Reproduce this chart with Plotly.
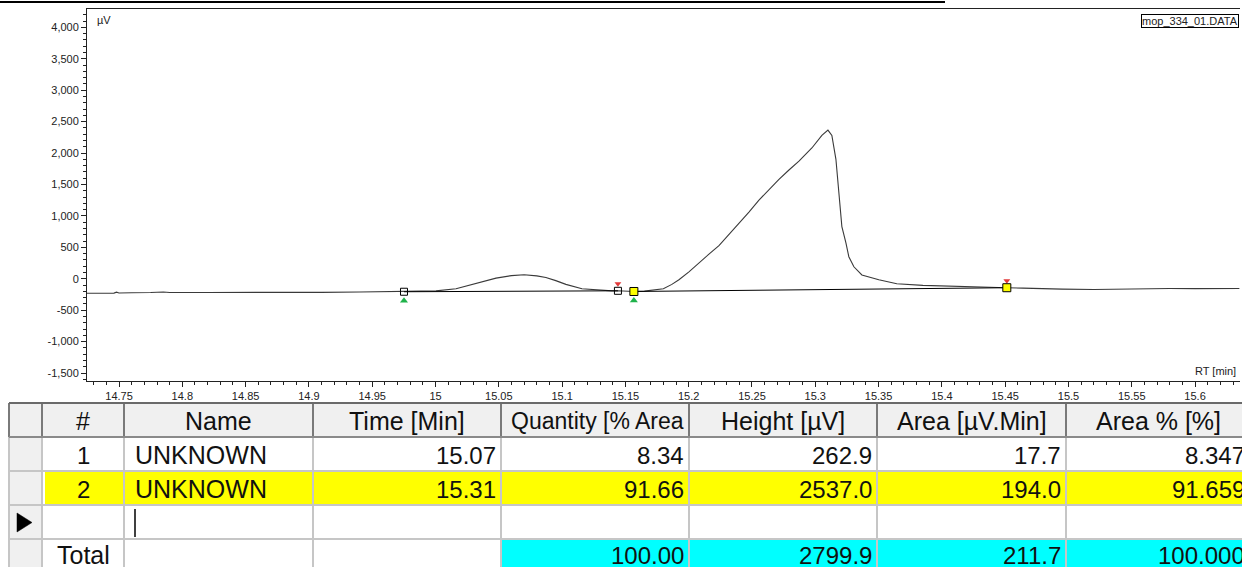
import numpy as np
import plotly.graph_objects as go

# ---------------- chromatogram trace (RT in min, signal in µV) ----------------
rt_min = [
    14.7247, 14.7460, 14.7480, 14.7500, 14.7600, 14.7700, 14.7750, 14.7850,
    14.7900, 14.8200, 14.8500, 14.8800, 14.9100, 14.9400, 14.9751,
    14.9870, 15.0004, 15.0162, 15.0250, 15.0343, 15.0478, 15.0600, 15.0700,
    15.0800, 15.0872, 15.0950, 15.1030, 15.1157, 15.1291, 15.1394, 15.1441,
    15.1500, 15.1567, 15.1650, 15.1741, 15.1800, 15.1867, 15.1923, 15.2002,
    15.2081, 15.2160, 15.2239, 15.2318, 15.2397, 15.2476, 15.2555, 15.2634,
    15.2713, 15.2792, 15.2871, 15.2973, 15.3052, 15.3100, 15.3131, 15.3163,
    15.3186, 15.3210, 15.3242, 15.3265, 15.3305, 15.3368, 15.3502, 15.3644,
    15.3850, 15.4055, 15.4300, 15.4513, 15.4640, 15.4800, 15.4950, 15.5200,
    15.5350, 15.5500, 15.5650, 15.5800, 15.6000, 15.6200, 15.6350,
]
signal_uv = [
    -230, -229, -214, -226, -222, -213, -220, -212,
    -220, -218, -220, -215, -217, -212, -207,
    -205, -193, -160, -110, -64, 10, 50, 64,
    45, 20, -30, -90, -160, -185, -193, -192,
    -198, -203, -198, -182, -160, -90, -16, 110,
    255, 390, 525, 700, 880, 1060, 1250, 1420,
    1580, 1730, 1870, 2080, 2280, 2365, 2280, 1900,
    1370, 830, 570, 350, 190, 60, -16, -80,
    -105, -120, -130, -143, -150, -152, -165, -172,
    -165, -170, -160, -155, -158, -152, -155,
]

# integration events (peak start / peak end retention times)
peak_start_rt = [14.9751, 15.1567]
peak_end_rt = [15.1441, 15.4513]
selected_peak = 1  # index of the highlighted peak

# axis ticks
x_tick_vals = [14.75, 14.8, 14.85, 14.9, 14.95, 15.0, 15.05, 15.1, 15.15,
               15.2, 15.25, 15.3, 15.35, 15.4, 15.45, 15.5, 15.55, 15.6]
x_tick_text = ["14.75", "14.8", "14.85", "14.9", "14.95", "15", "15.05", "15.1",
               "15.15", "15.2", "15.25", "15.3", "15.35", "15.4", "15.45", "15.5",
               "15.55", "15.6"]
y_tick_vals = [4000, 3500, 3000, 2500, 2000, 1500, 1000, 500, 0, -500, -1000, -1500]
y_tick_text = ["4,000", "3,500", "3,000", "2,500", "2,000", "1,500", "1,000", "500",
               "0", "-500", "-1,000", "-1,500"]

# ---------------- results table ----------------
table_headers = ["#", "Name", "Time [Min]", "Quantity [% Area", "Height [µV]",
                 "Area [µV.Min]", "Area % [%]"]
peak_no = ["1", "2"]
peak_names = ["UNKNOWN", "UNKNOWN"]
peak_time = [15.07, 15.31]
quantity_pct = [8.34, 91.66]
height_uv = [262.9, 2537.0]
area_uvmin = [17.7, 194.0]
area_pct = [8.347, 91.659]
total_label = "Total"
total_quantity = 100.00
total_height = 2799.9
total_area = 211.7
total_area_pct = 100.000

# ---------------- page geometry (pixels) ----------------
W, H = 1242, 567
L, R, T, B = 87, 1240, 9, 381
X_RANGE = [14.7247, 15.6355]
Y_RANGE = [-1627, 4291]


def px(x):
    return (x - L) / (R - L)


def py(y):
    return (B - y) / (B - T)


fig = go.Figure()

rt = np.array(rt_min)
sig = np.array(signal_uv)

# signal
fig.add_trace(go.Scatter(x=rt, y=sig, mode="lines",
                         line=dict(color="#3a3a3a", width=1.1),
                         hoverinfo="skip"))

# baselines drawn between each peak's start and end
bx, by = [], []
for s, e in zip(peak_start_rt, peak_end_rt):
    bx += [s, e, None]
    by += [float(np.interp(s, rt, sig)), float(np.interp(e, rt, sig)), None]
fig.add_trace(go.Scatter(x=bx, y=by, mode="lines",
                         line=dict(color="black", width=1), hoverinfo="skip"))

# event markers
uv_per_px = (Y_RANGE[1] - Y_RANGE[0]) / (B - T)
for i, (s, e) in enumerate(zip(peak_start_rt, peak_end_rt)):
    ys = float(np.interp(s, rt, sig))
    ye = float(np.interp(e, rt, sig))
    fill = "#ffff00" if i == selected_peak else "rgba(255,255,255,0)"
    size = 8 if i == selected_peak else 7
    # green start flag below, red end flag above
    fig.add_trace(go.Scatter(x=[s], y=[ys - 9 * uv_per_px], mode="markers",
                             marker=dict(symbol="triangle-up", size=7, color="#1fb24a",
                                         line=dict(width=0)), hoverinfo="skip"))
    fig.add_trace(go.Scatter(x=[e], y=[ye + 7 * uv_per_px], mode="markers",
                             marker=dict(symbol="triangle-down", size=6, color="#e23a3a",
                                         line=dict(width=0)), hoverinfo="skip"))
    fig.add_trace(go.Scatter(x=[s, e], y=[ys, ye], mode="markers",
                             marker=dict(symbol="square", size=size, color=fill,
                                         line=dict(color="black", width=1)),
                             hoverinfo="skip"))

axis_font = dict(family="Arial, Liberation Sans, sans-serif", size=11, color="#222222")

fig.update_xaxes(range=X_RANGE, showgrid=False, zeroline=False,
                 showline=True, linecolor="#222222", linewidth=1, mirror=True,
                 ticks="outside", ticklen=5, tickcolor="#222222",
                 tickvals=x_tick_vals, ticktext=x_tick_text, tickfont=axis_font,
                 minor=dict(tick0=14.75, dtick=0.01, ticks="outside", ticklen=3,
                            tickcolor="#222222", showgrid=False))
fig.update_yaxes(range=Y_RANGE, showgrid=False, zeroline=False,
                 showline=True, linecolor="#222222", linewidth=1,
                 ticks="outside", ticklen=5, tickcolor="#222222",
                 tickvals=y_tick_vals, ticktext=y_tick_text, tickfont=axis_font,
                 minor=dict(tick0=0, dtick=100, ticks="outside", ticklen=3,
                            tickcolor="#222222", showgrid=False))

shapes = []
annotations = []

# in-plot labels
annotations.append(dict(xref="paper", yref="paper", x=px(95), y=py(20),
                        xanchor="left", yanchor="middle", text="µV",
                        showarrow=False, font=axis_font))
annotations.append(dict(xref="paper", yref="paper", x=px(1238), y=py(371),
                        xanchor="right", yanchor="middle", text="RT [min]",
                        showarrow=False, font=axis_font))
annotations.append(dict(xref="paper", yref="paper", x=px(1239), y=py(14),
                        xanchor="right", yanchor="top", text="mop_334_01.DATA",
                        showarrow=False, bordercolor="black", borderwidth=1,
                        borderpad=0, font=dict(family="Arial, Liberation Sans, sans-serif",
                                               size=11, color="#222222")))

# rule across the very top of the page
shapes.append(dict(type="line", xref="paper", yref="paper", x0=px(0), x1=px(945),
                   y0=py(2), y1=py(2), line=dict(color="black", width=2)))

# ---------------- table drawing ----------------
col_edges = [9, 42, 124, 313, 501, 689, 877, 1066, 1250]
row_edges = [403, 437, 471, 505, 539, 575]


def rect(x0, y0, x1, y1, color):
    shapes.append(dict(type="rect", xref="paper", yref="paper", layer="below",
                       x0=px(x0), x1=px(x1), y0=py(y0), y1=py(y1),
                       fillcolor=color, line=dict(width=0)))


def hline(y, x0, x1, color, w):
    shapes.append(dict(type="line", xref="paper", yref="paper",
                       x0=px(x0), x1=px(x1), y0=py(y), y1=py(y),
                       line=dict(color=color, width=w)))


def vline(x, y0, y1, color, w):
    shapes.append(dict(type="line", xref="paper", yref="paper",
                       x0=px(x), x1=px(x), y0=py(y0), y1=py(y1),
                       line=dict(color=color, width=w)))


# fills
rect(col_edges[0], row_edges[0], W, row_edges[1], "#f0f0f0")          # header
rect(col_edges[0], row_edges[1], col_edges[1], H, "#f0f0f0")          # row selectors
rect(col_edges[1] + 3, row_edges[2] + 1, W, row_edges[3], "#ffff00")  # selected peak
rect(col_edges[4], row_edges[4] + 1, W, H, "#00ffff")                 # totals

# grid
for y in row_edges[2:5]:
    hline(y, col_edges[0], W, "#c6c6c6", 2)
for x in col_edges[:-1]:
    vline(x, row_edges[1], H, "#c6c6c6", 2)
for x in col_edges[:-1]:
    vline(x, row_edges[0], row_edges[1], "#7a7a7a", 2)
hline(row_edges[0], col_edges[0], W, "#6a6a6a", 2)
hline(row_edges[1], col_edges[0], W, "#8a8a8a", 2)

# current-row pointer and edit caret
tri = "M {:.5f},{:.5f} L {:.5f},{:.5f} L {:.5f},{:.5f} Z".format(
    px(17), py(513), px(32), py(522.5), px(17), py(532))
shapes.append(dict(type="path", xref="paper", yref="paper", path=tri,
                   fillcolor="black", line=dict(color="black", width=0.5)))
vline(135, 509, 537, "black", 1.5)

FAMILY = "Arial, Liberation Sans, sans-serif"


def cell_text(text, x, y, anchor, size=24):
    annotations.append(dict(xref="paper", yref="paper", x=px(x), y=py(y),
                            xanchor=anchor, yanchor="middle", text=text,
                            showarrow=False,
                            font=dict(family=FAMILY, size=size, color="#111111")))


def row_mid(i):
    return (row_edges[i] + row_edges[i + 1]) / 2 + 1


# header
for j, h in enumerate(table_headers):
    c0, c1 = col_edges[j + 1], col_edges[j + 2]
    if h.startswith("Quantity"):
        cell_text(h, c0 + 8, row_mid(0), "left", size=23)
    else:
        cell_text(h, (c0 + c1) / 2, row_mid(0), "center", size=25)

# peak rows
for i in range(len(peak_no)):
    y = row_mid(i + 1)
    cell_text(peak_no[i], (col_edges[1] + col_edges[2]) / 2, y, "center")
    cell_text(peak_names[i], col_edges[2] + 9, y, "left", size=25)
    cell_text(f"{peak_time[i]:.2f}", col_edges[4] - 3, y, "right")
    cell_text(f"{quantity_pct[i]:.2f}", col_edges[5] - 3, y, "right")
    cell_text(f"{height_uv[i]:.1f}", col_edges[6] - 3, y, "right")
    cell_text(f"{area_uvmin[i]:.1f}", col_edges[7] - 3, y, "right")
    cell_text(f"{area_pct[i]:.3f}", col_edges[8] - 3, y, "right")

# totals row
yt = row_mid(4) - 3
cell_text(total_label, (col_edges[1] + col_edges[2]) / 2, yt, "center", size=25)
cell_text(f"{total_quantity:.2f}", col_edges[5] - 3, yt, "right")
cell_text(f"{total_height:.1f}", col_edges[6] - 3, yt, "right")
cell_text(f"{total_area:.1f}", col_edges[7] - 3, yt, "right")
cell_text(f"{total_area_pct:.3f}", col_edges[8] - 3, yt, "right")

fig.update_layout(
    width=W, height=H,
    margin=dict(l=L, r=W - R, t=T, b=H - B),
    paper_bgcolor="white", plot_bgcolor="white",
    showlegend=False, hovermode=False,
    shapes=shapes, annotations=annotations,
)

fig.write_html("out.html", config={"displayModeBar": False})
